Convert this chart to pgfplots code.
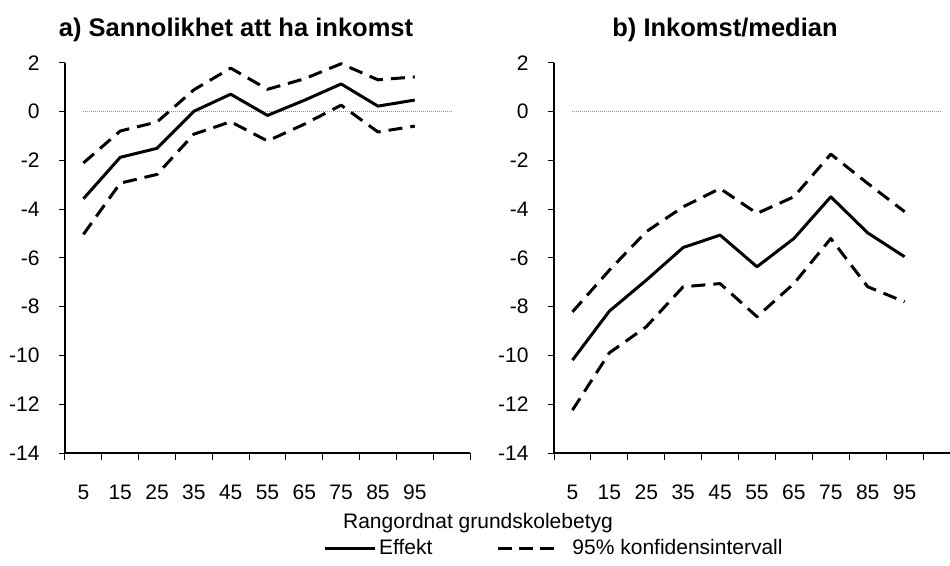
\documentclass[border=0pt]{standalone}
\usepackage{pgfplots}
\pgfplotsset{compat=1.18}
\usepackage{pgfplotstable}
\usepackage{fontspec}
\setmainfont{Liberation Sans}
\definecolor{zeroline}{RGB}{140,140,205}

\pgfplotstableread{
x    eff    up     lo
0.5  -3.57  -2.10  -5.03
1.5  -1.87  -0.79  -2.93
2.5  -1.50  -0.42  -2.57
3.5   0.02   0.90  -0.92
4.5   0.72   1.79  -0.41
5.5  -0.15   0.92  -1.20
6.5   0.47   1.35  -0.51
7.5   1.14   1.97   0.27
8.5   0.23   1.31  -0.83
9.5   0.48   1.43  -0.59
}\tabA

\pgfplotstableread{
x    eff     up     lo
0.5  -10.19  -8.21  -12.24
1.5   -8.18  -6.50   -9.89
2.5   -6.91  -4.92   -8.82
3.5   -5.57  -3.90   -7.18
4.5   -5.06  -3.15   -7.05
5.5   -6.36  -4.17   -8.41
6.5   -5.20  -3.49   -7.05
7.5   -3.49  -1.74   -5.20
8.5   -4.97  -2.94   -7.18
9.5   -5.95  -4.10   -7.80
}\tabB

\pgfplotsset{
  panel/.style={
    scale only axis, height=390pt,
    axis x line*=bottom, axis y line*=left,
    axis line style={line width=2pt,-},
    ymin=-14, ymax=2,
    ytick={-14,-12,-10,-8,-6,-4,-2,0,2},
    yticklabels={-14,-12,-10,-8,-6,-4,-2,0,2},
    xmin=0,
    xtick={0.5,1.5,2.5,3.5,4.5,5.5,6.5,7.5,8.5,9.5},
    xticklabels={5,15,25,35,45,55,65,75,85,95},
    major x tick style={draw=none},
    tick align=outside, major tick length=6pt, minor tick length=7pt,
    ytick style={line width=1pt,black},
    minor x tick style={line width=1pt,black},
    tick label style={font=\fontsize{21}{25}\selectfont},
    xticklabel style={anchor=north, yshift=-22pt, text height=15pt, text depth=0pt},
    yticklabel style={anchor=east, xshift=-16pt},
    clip=false,
  },
  eff/.style={black, line width=3pt, line join=round},
  ci/.style={black, line width=3pt, dash pattern=on 14pt off 8pt, line join=round},
  zl/.style={zeroline, line width=1pt, dash pattern=on 1pt off 1pt},
  effleg/.style={legend image code/.code={\draw[##1] (0pt,0pt) -- (50pt,0pt);}},
  cileg/.style={legend image code/.code={\draw[##1,dash pattern=on 14pt off 7pt] (0pt,0pt) -- (56pt,0pt); \path (70pt,0pt);}},
}

\begin{document}
\begin{tikzpicture}
\useasboundingbox (0pt,0pt) rectangle (950pt,565pt);

\begin{axis}[panel, at={(65pt,112pt)}, anchor=south west, width=405pt, xmax=11,
  minor xtick={0,1,2,3,4,5,6,7,8,9,10,11},
  legend columns=2,
  legend style={at={(0.637,-0.2436)}, anchor=west, draw=none, fill=none,
    inner sep=0pt, font=\fontsize{21}{25}\selectfont,
    nodes={inner sep=0pt},
    /tikz/every odd column/.append style={column sep=3pt},
    /tikz/every even column/.append style={column sep=64pt}},
  legend cell align=left]
  \addplot[zl, forget plot] coordinates {(0.5,0) (10.5,0)};
  \addplot[eff, effleg] table[x=x,y=eff] {\tabA};
  \addlegendentry{Effekt}
  \addplot[ci, cileg] table[x=x,y=up] {\tabA};
  \addlegendentry{95\% konfidensintervall}
  \addplot[ci, forget plot] table[x=x,y=lo] {\tabA};
\end{axis}

\begin{axis}[panel, at={(554pt,112pt)}, anchor=south west, width=396pt, xmax=10.73,
  minor xtick={0,1,2,3,4,5,6,7,8,9,10}]
  \addplot[zl] coordinates {(0.5,0) (10.5,0)};
  \addplot[eff] table[x=x,y=eff] {\tabB};
  \addplot[ci] table[x=x,y=up] {\tabB};
  \addplot[ci] table[x=x,y=lo] {\tabB};
\end{axis}

\node[font=\bfseries\fontsize{25.5}{30}\selectfont] at (236pt,535pt) {a) Sannolikhet att ha inkomst};
\node[font=\bfseries\fontsize{25.5}{30}\selectfont] at (725pt,535pt) {b) Inkomst/median};
\node[font=\fontsize{21}{25}\selectfont] at (478pt,42pt) {Rangordnat grundskolebetyg};
\end{tikzpicture}
\end{document}
